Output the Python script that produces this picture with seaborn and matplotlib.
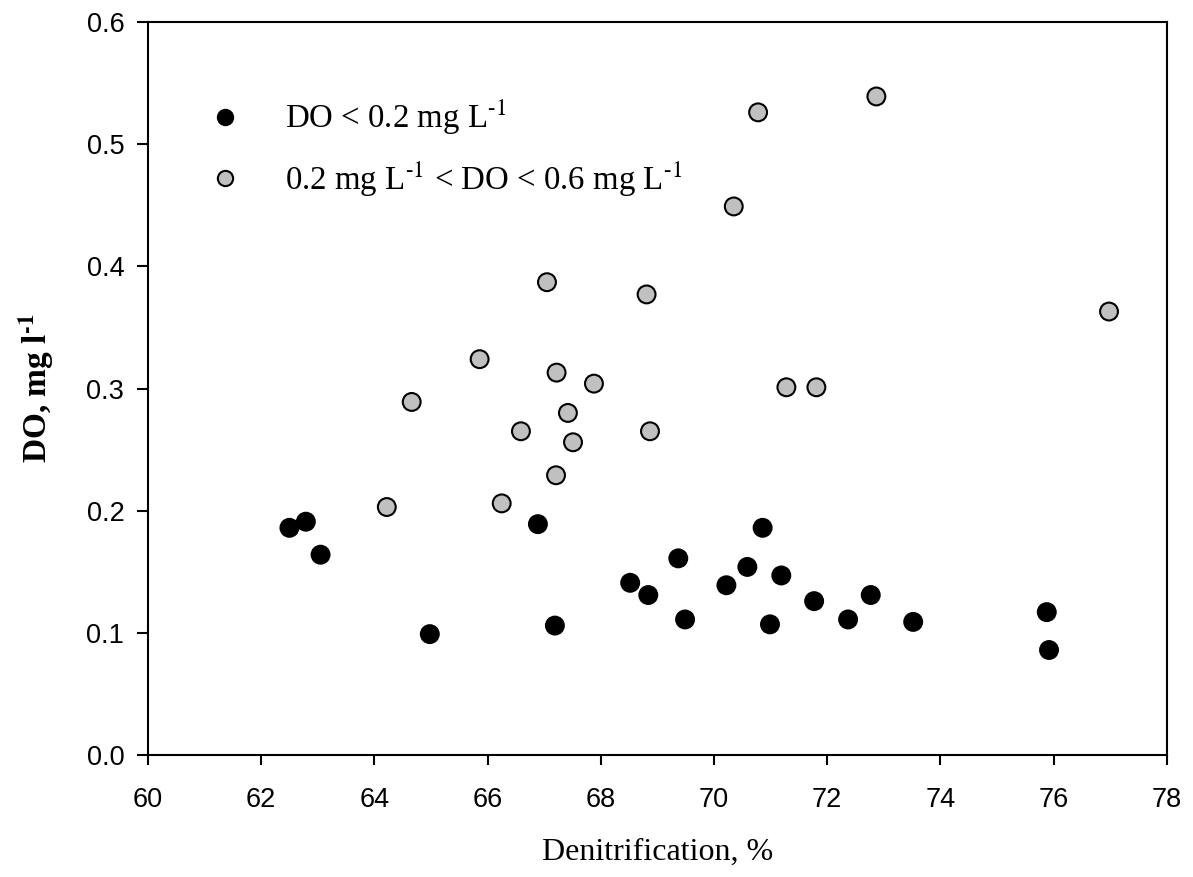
import pandas as pd
import numpy as np
import matplotlib
matplotlib.use("Agg")
import matplotlib.pyplot as plt
import seaborn as sns

# Data
low_x = [62.50, 62.79, 63.05, 64.98, 66.89, 67.19, 68.52, 68.84, 69.37, 69.49,
         70.22, 70.59, 70.86, 70.99, 71.19, 71.77, 72.37, 72.77, 73.52, 75.88, 75.92]
low_y = [0.186, 0.191, 0.164, 0.099, 0.189, 0.106, 0.141, 0.131, 0.161, 0.111,
         0.139, 0.154, 0.186, 0.107, 0.147, 0.126, 0.111, 0.131, 0.109, 0.117, 0.086]

mid_x = [64.22, 64.66, 65.86, 66.25, 66.59, 67.05, 67.21, 67.22, 67.42, 67.51,
         67.88, 68.81, 68.87, 70.35, 70.78, 71.28, 71.81, 72.87, 76.98]
mid_y = [0.203, 0.289, 0.324, 0.206, 0.265, 0.387, 0.229, 0.313, 0.280, 0.256,
         0.304, 0.377, 0.265, 0.449, 0.526, 0.301, 0.301, 0.539, 0.363]

label_low = r"DO < 0.2 mg L$^{\text{-1}}$"
label_mid = r"0.2 mg L$^{\text{-1}}$ < DO < 0.6 mg L$^{\text{-1}}$"

x_ticks = [60, 62, 64, 66, 68, 70, 72, 74, 76, 78]
y_ticks = [0.0, 0.1, 0.2, 0.3, 0.4, 0.5, 0.6]

df = pd.DataFrame({
    "denit": low_x + mid_x,
    "do": low_y + mid_y,
    "group": [label_low] * len(low_x) + [label_mid] * len(mid_x),
})

sns.set_style("ticks")
plt.rcParams["font.family"] = ["Liberation Sans", "DejaVu Sans"]
plt.rcParams["mathtext.fontset"] = "stix"
plt.rcParams["text.color"] = "black"
plt.rcParams["axes.labelcolor"] = "black"
plt.rcParams["xtick.color"] = "black"
plt.rcParams["ytick.color"] = "black"

fig = plt.figure(figsize=(11.93, 8.77), dpi=100)
ax = fig.add_axes([0.124, 0.139, 0.854, 0.836])

sns.scatterplot(
    data=df,
    x="denit",
    y="do",
    hue="group",
    palette={label_low: "black", label_mid: "#c0c0c0"},
    edgecolor="black",
    linewidth=1.5,
    s=165,
    ax=ax,
    zorder=3,
)

ax.set_xlim(60, 78)
ax.set_ylim(0, 0.6)
ax.set_xticks(x_ticks)
ax.set_yticks(y_ticks)
ax.set_xticklabels([str(t) for t in x_ticks])
ax.set_yticklabels([f"{t:.1f}" for t in y_ticks])

for sp in ax.spines.values():
    sp.set_visible(True)
    sp.set_linewidth(1.5)
    sp.set_color("black")

ax.tick_params(axis="x", direction="out", length=7, width=1.5, pad=16,
               labelsize=19.5, top=False, colors="black")
ax.tick_params(axis="y", direction="out", length=8, width=1.5, pad=9,
               labelsize=19.5, right=False, colors="black")

ax.set_xlabel("Denitrification, %", family="Liberation Serif", fontsize=23,
              labelpad=18, color="black")
ax.set_ylabel("DO, mg l$^{\\mathbf{\u2010 1}}$", family="Liberation Serif",
              fontsize=24, fontweight="bold", labelpad=22, color="black")

leg = ax.legend(loc="upper left", bbox_to_anchor=(0.047, 0.914), frameon=False,
                fontsize=23.7, handlelength=1.0, handletextpad=1.3,
                labelspacing=0.68, borderaxespad=0)
for t in leg.get_texts():
    t.set_family("Liberation Serif")
    t.set_color("black")
for h in leg.legend_handles:
    h.set_markeredgecolor("black")
    h.set_markeredgewidth(1.5)
    h.set_markersize(11)

fig.savefig("out.png", dpi=100)
